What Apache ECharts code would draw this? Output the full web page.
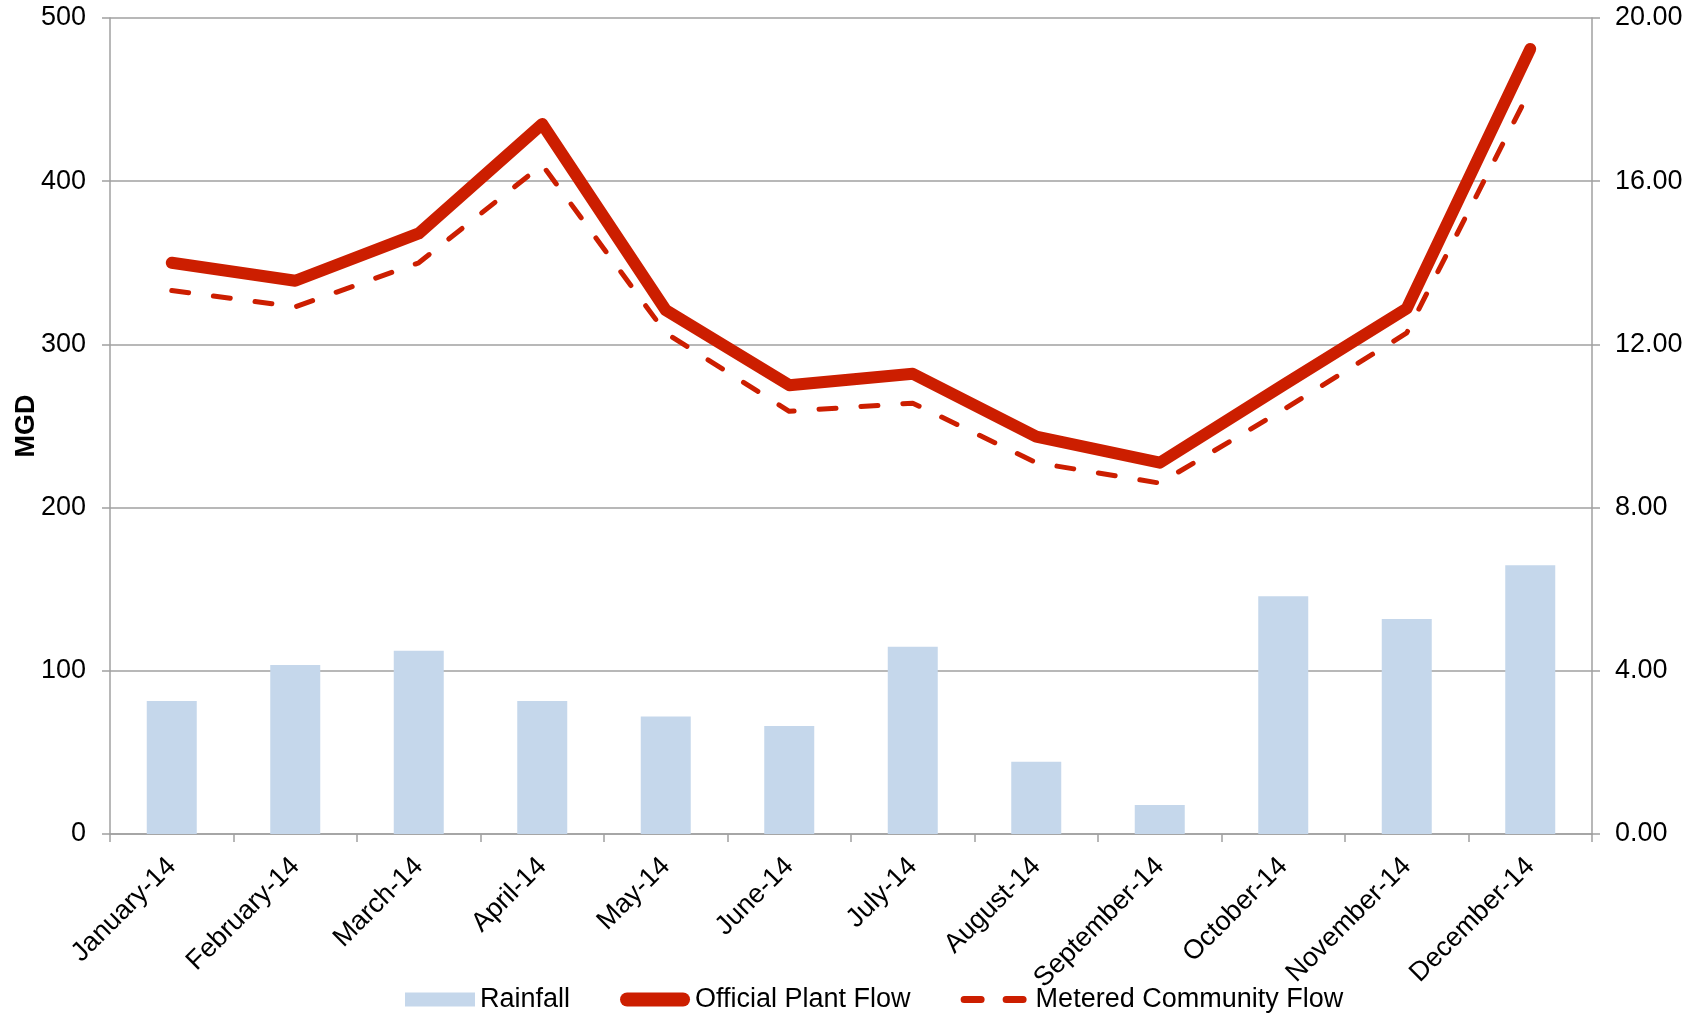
<!DOCTYPE html>
<html>
<head>
<meta charset="utf-8">
<script src="https://cdn.jsdelivr.net/npm/echarts@6/dist/echarts.min.js"></script>
<style>
html,body{margin:0;padding:0;background:#fff;}
#c{width:1700px;height:1018px;}
</style>
</head>
<body>
<div id="c"></div>
<script>
const categories = ['January-14','February-14','March-14','April-14','May-14','June-14','July-14','August-14','September-14','October-14','November-14','December-14'];
const rainfall = [3.26, 4.14, 4.49, 3.26, 2.88, 2.65, 4.59, 1.77, 0.71, 5.83, 5.27, 6.59];
const officialPlantFlow = [350, 339, 368, 435, 321, 275, 282, 243.5, 227.5, 275, 322, 481];
const meteredCommunityFlow = [333, 323, 350, 410, 307, 259, 264, 227.5, 215, 260, 307, 456];
const leftTicks = {min: 0, max: 500, interval: 100};
const rightTicks = {min: 0, max: 20, interval: 4};

const FONT = 'Liberation Sans, Arial, sans-serif';
const AXIS = '#A0A0A0';
const RED = '#CC1E00';
const BLUE = '#C5D7EB';
const FS = 27;

// legend icons drawn in a 70x14 box (corner points fix the box)
const ICON_SOLID = 'path://M7,0 L63,0 A7,7 0 0 1 63,14 L7,14 A7,7 0 0 1 7,0 Z';
const ICON_DASH = 'path://M0,0 L0.01,0 L0,0.01 Z M70,14 L69.99,14 L70,13.99 Z ' +
  'M3.5,3.5 L20.5,3.5 A3.5,3.5 0 0 1 20.5,10.5 L3.5,10.5 A3.5,3.5 0 0 1 3.5,3.5 Z ' +
  'M45.5,3.5 L62.5,3.5 A3.5,3.5 0 0 1 62.5,10.5 L45.5,10.5 A3.5,3.5 0 0 1 45.5,3.5 Z';

const chart = echarts.init(document.getElementById('c'), null, {renderer: 'canvas'});
chart.setOption({
  animation: false,
  backgroundColor: '#fff',
  textStyle: {fontFamily: FONT},
  grid: {left: 110, right: 108, top: 18, bottom: 184, containLabel: false, outerBoundsMode: 'none'},
  legend: {
    bottom: 0,
    left: 400,
    itemWidth: 70,
    itemHeight: 14,
    itemGap: 50,
    textStyle: {fontSize: FS, color: '#000', fontFamily: FONT},
    data: [
      {name: 'Rainfall', icon: 'rect'},
      {name: 'Official Plant Flow', icon: ICON_SOLID},
      {name: 'Metered Community Flow', icon: ICON_DASH}
    ]
  },
  xAxis: {
    type: 'category',
    data: categories,
    boundaryGap: true,
    axisLine: {lineStyle: {color: AXIS, width: 1.5}},
    axisTick: {show: true, length: 8, alignWithLabel: false, lineStyle: {color: AXIS, width: 1.5}},
    axisLabel: {interval: 0, rotate: 45, fontSize: FS, color: '#000', margin: 28, fontFamily: FONT}
  },
  yAxis: [
    {
      type: 'value',
      min: leftTicks.min, max: leftTicks.max, interval: leftTicks.interval,
      name: 'MGD',
      nameLocation: 'middle',
      nameGap: 70,
      nameRotate: 90,
      nameMoveOverlap: false,
      nameTextStyle: {fontSize: FS, fontWeight: 'bold', color: '#000', fontFamily: FONT},
      axisLine: {show: true, lineStyle: {color: AXIS, width: 1.5}},
      axisTick: {show: true, length: 8, lineStyle: {color: AXIS, width: 1.5}},
      axisLabel: {fontSize: FS, color: '#000', margin: 24, fontFamily: FONT},
      splitLine: {show: true, lineStyle: {color: AXIS, width: 1.5}}
    },
    {
      type: 'value',
      min: rightTicks.min, max: rightTicks.max, interval: rightTicks.interval,
      position: 'right',
      axisLine: {show: true, lineStyle: {color: AXIS, width: 1.5}},
      axisTick: {show: true, length: 8, lineStyle: {color: AXIS, width: 1.5}},
      axisLabel: {fontSize: FS, color: '#000', margin: 23, fontFamily: FONT, formatter: v => v.toFixed(2)},
      splitLine: {show: false}
    }
  ],
  series: [
    {
      name: 'Rainfall',
      type: 'bar',
      yAxisIndex: 1,
      data: rainfall,
      barWidth: 50,
      itemStyle: {color: BLUE},
      z: 1
    },
    {
      name: 'Official Plant Flow',
      type: 'line',
      yAxisIndex: 0,
      data: officialPlantFlow,
      symbol: 'none',
      itemStyle: {color: RED},
      lineStyle: {color: RED, width: 12, cap: 'round', join: 'round'},
      z: 3
    },
    {
      name: 'Metered Community Flow',
      type: 'line',
      yAxisIndex: 0,
      data: meteredCommunityFlow,
      symbol: 'none',
      itemStyle: {color: RED},
      lineStyle: {color: RED, width: 5, type: [17, 25], cap: 'round', join: 'round'},
      z: 4
    }
  ]
});
</script>
</body>
</html>
